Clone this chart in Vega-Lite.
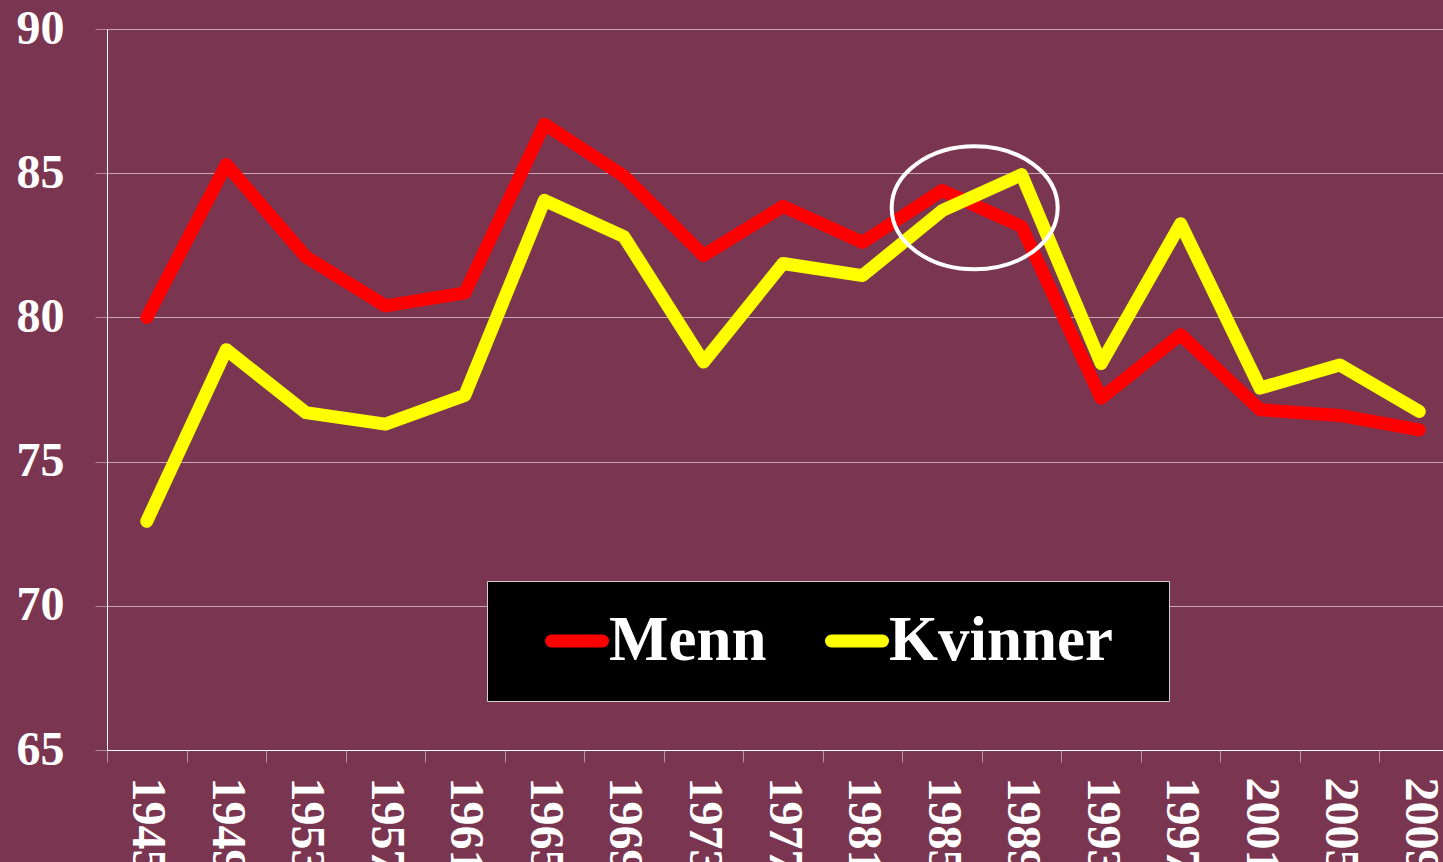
{
  "$schema": "https://vega.github.io/schema/vega-lite/v6.json",
  "width": 1336,
  "height": 721,
  "autosize": {"type": "none"},
  "padding": {"left": 107, "top": 29, "right": 0, "bottom": 112},
  "background": "#7A3650",
  "config": {"view": {"stroke": null, "fill": "#7A3650"}, "font": "Liberation Serif"},
  "layer": [
    {
      "data": {"values": [
        {"year": "1945", "sex": "Menn", "value": 80.0},
        {"year": "1949", "sex": "Menn", "value": 85.3},
        {"year": "1953", "sex": "Menn", "value": 82.1},
        {"year": "1957", "sex": "Menn", "value": 80.4},
        {"year": "1961", "sex": "Menn", "value": 80.85},
        {"year": "1965", "sex": "Menn", "value": 86.7},
        {"year": "1969", "sex": "Menn", "value": 84.9},
        {"year": "1973", "sex": "Menn", "value": 82.15},
        {"year": "1977", "sex": "Menn", "value": 83.85},
        {"year": "1981", "sex": "Menn", "value": 82.6},
        {"year": "1985", "sex": "Menn", "value": 84.4},
        {"year": "1989", "sex": "Menn", "value": 83.15},
        {"year": "1993", "sex": "Menn", "value": 77.2},
        {"year": "1997", "sex": "Menn", "value": 79.4},
        {"year": "2001", "sex": "Menn", "value": 76.8},
        {"year": "2005", "sex": "Menn", "value": 76.6},
        {"year": "2009", "sex": "Menn", "value": 76.1},
        {"year": "1945", "sex": "Kvinner", "value": 72.93},
        {"year": "1949", "sex": "Kvinner", "value": 78.88},
        {"year": "1953", "sex": "Kvinner", "value": 76.7},
        {"year": "1957", "sex": "Kvinner", "value": 76.3},
        {"year": "1961", "sex": "Kvinner", "value": 77.3},
        {"year": "1965", "sex": "Kvinner", "value": 84.06},
        {"year": "1969", "sex": "Kvinner", "value": 82.8},
        {"year": "1973", "sex": "Kvinner", "value": 78.45},
        {"year": "1977", "sex": "Kvinner", "value": 81.87},
        {"year": "1981", "sex": "Kvinner", "value": 81.45},
        {"year": "1985", "sex": "Kvinner", "value": 83.7},
        {"year": "1989", "sex": "Kvinner", "value": 84.95},
        {"year": "1993", "sex": "Kvinner", "value": 78.4},
        {"year": "1997", "sex": "Kvinner", "value": 83.25},
        {"year": "2001", "sex": "Kvinner", "value": 77.55},
        {"year": "2005", "sex": "Kvinner", "value": 78.35},
        {"year": "2009", "sex": "Kvinner", "value": 76.74}
      ]},
      "mark": {"type": "line", "strokeWidth": 13, "strokeCap": "round", "strokeJoin": "round"},
      "encoding": {
        "x": {
          "field": "year", "type": "ordinal", "bandPosition": 0.5,
          "scale": {"type": "band", "range": [0, 1352], "paddingInner": 0, "paddingOuter": 0},
          "axis": {
            "title": null, "labelAngle": 90, "labelAlign": "left", "labelBaseline": "middle",
            "labelFontSize": 48, "labelFontWeight": "bold", "labelColor": "white", "labelFont": "Liberation Serif",
            "tickBand": "extent", "tickSize": 12, "tickColor": "#B894A3", "domainColor": "white",
            "labelPadding": 15, "grid": false, "labelOverlap": false, "labelBound": false
          }
        },
        "y": {
          "field": "value", "type": "quantitative",
          "scale": {"domain": [65, 90], "nice": false, "zero": false},
          "axis": {
            "title": null, "values": [65, 70, 75, 80, 85, 90], "grid": true,
            "gridColor": "#C8A5B4", "gridWidth": 1, "tickSize": 12, "tickColor": "#B08898",
            "domainColor": "white", "labelFontSize": 48, "labelFontWeight": "bold",
            "labelColor": "white", "labelPadding": 31, "labelFont": "Liberation Serif"
          }
        },
        "color": {
          "field": "sex", "type": "nominal",
          "scale": {"domain": ["Menn", "Kvinner"], "range": ["#FF0000", "#FFFF00"]},
          "legend": {
            "title": ".", "titleOrient": "right", "titleColor": "black", "titleFontSize": 62,
            "titleFont": "Liberation Serif", "titlePadding": 12,
            "orient": "none", "legendX": 380, "legendY": 552,
            "direction": "horizontal", "fillColor": "black", "strokeColor": "#D0D0D0",
            "padding": 28, "symbolOffset": 30, "columnPadding": 28,
            "symbolType": "stroke", "symbolSize": 2601, "symbolStrokeWidth": 13,
            "labelFont": "Liberation Serif", "labelFontSize": 63, "labelFontWeight": "bold",
            "labelColor": "white", "labelOffset": 0, "labelLimit": 400,
            "encode": {"symbols": {"update": {"strokeCap": {"value": "round"}}}}
          }
        }
      }
    },
    {
      "data": {"values": [{"pos": 10.91, "value": 83.8}]},
      "mark": {
        "type": "point",
        "shape": "M -1 0 A 1 0.741 0 1 0 1 0 A 1 0.741 0 1 0 -1 0 Z",
        "size": 27556, "filled": false, "color": "white", "strokeWidth": 4, "opacity": 1
      },
      "encoding": {
        "x": {"field": "pos", "type": "quantitative", "scale": {"domain": [0, 17], "range": [0, 1352]}, "axis": null},
        "y": {"field": "value", "type": "quantitative"}
      }
    }
  ],
  "resolve": {"scale": {"x": "independent"}, "axis": {"x": "independent"}}
}
